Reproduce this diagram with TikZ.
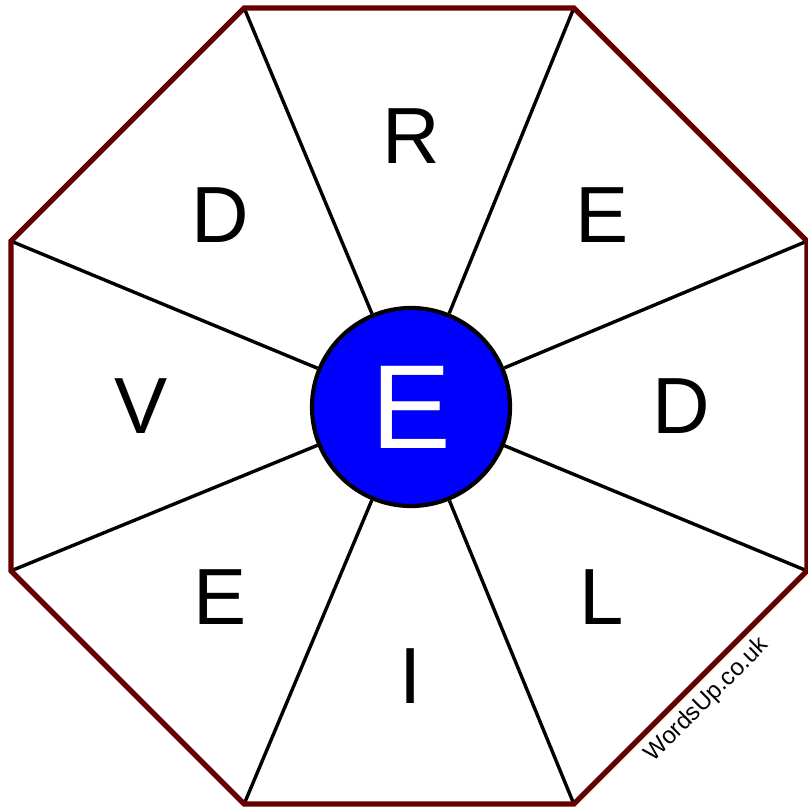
\documentclass[tikz,border=0pt]{standalone}
\usepackage{fontspec}
\setmainfont{Liberation Sans}
\usetikzlibrary{calc}
\definecolor{rimclr}{RGB}{102,0,0}
\definecolor{hubclr}{RGB}{0,0,255}

\begin{document}
\begin{tikzpicture}[x=0.03cm, y=0.03cm,
  rim/.style={rimclr, line width=4.6pt, line join=miter},
  spoke/.style={black, line width=2.9pt},
  letter/.style={inner sep=0pt, font=\fontsize{68}{68}\selectfont},
  hub/.style={circle, draw=black, fill=hubclr, line width=3.6pt, inner sep=0pt,
    minimum size=5.94cm, text=white, font=\fontsize{102}{102}\selectfont}]
  \useasboundingbox (0,0) rectangle (807,810);
  \coordinate (O) at (409,404);
  % octagon corners
  \foreach \k in {0,...,7}
    \coordinate (v\k) at ($(O)+(22.5+45*\k:430.8)$);
  % hub
  \node[hub] (hub) at ($(O)+(2,-1)$) {E};
  % spokes
  \foreach \k in {0,...,7}
    \draw[spoke] (hub) -- (v\k);
  \draw[rim] (v0) -- (v1) -- (v2) -- (v3) -- (v4) -- (v5) -- (v6) -- (v7) -- cycle;
  % outer letters, clockwise from the top
  \foreach \ch [count=\k from 0] in {R,E,D,L,I,E,V,D}
    \node[letter] (l\k) at ($(O)+(2,0)+(90-45*\k:270)$) {\ch};
  % watermark
  \node[rotate=45, inner sep=0pt, font=\fontsize{20.5}{20.5}\selectfont] (wm) at (707,110) {WordsUp.co.uk};
\end{tikzpicture}
\end{document}
